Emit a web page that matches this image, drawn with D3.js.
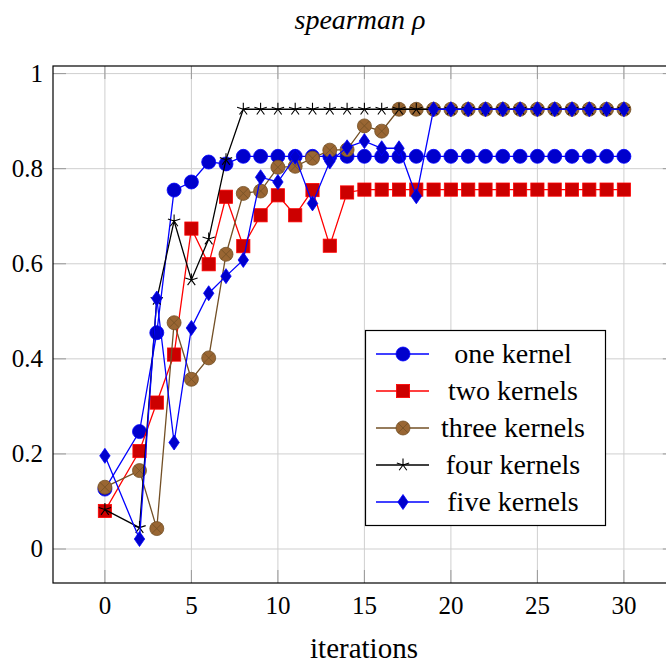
<!DOCTYPE html>
<html lang="en">
<head>
<meta charset="UTF-8">
<title>spearman rho</title>
<script src="https://d3js.org/d3.v7.js"></script>
<style>
	body { margin: 0; background: white; }
	text { font-family: "Liberation Serif", serif; fill: black; }
</style>
</head>
<body>
<svg id="chart" width="666" height="664"></svg>
<script>

// iteration numbers (there is no point at 1)
var iterations = [0, 2, 3, 4, 5, 6, 7, 8, 9, 10, 11, 12, 13, 14, 15, 16, 17, 18, 19, 20, 21, 22, 23, 24, 25, 26, 27, 28, 29, 30];

var oneKernel = [0.126, 0.247, 0.455, 0.755, 0.772, 0.814, 0.81,
	0.826, 0.826, 0.826, 0.826, 0.826, 0.826, 0.826, 0.826, 0.826, 0.826, 0.826, 0.826,
	0.826, 0.826, 0.826, 0.826, 0.826, 0.826, 0.826, 0.826, 0.826, 0.826, 0.826];

var twoKernels = [0.08, 0.206, 0.308, 0.409, 0.674, 0.599, 0.741,
	0.637, 0.702, 0.744, 0.702, 0.755, 0.638, 0.75,
	0.756, 0.756, 0.756, 0.756, 0.756, 0.756, 0.756, 0.756,
	0.756, 0.756, 0.756, 0.756, 0.756, 0.756, 0.756, 0.756];

var threeKernels = [0.13, 0.165, 0.043, 0.476, 0.357, 0.402, 0.62,
	0.748, 0.753, 0.803, 0.805, 0.822, 0.839, 0.84, 0.89, 0.879,
	0.925, 0.925, 0.925, 0.925, 0.925, 0.925, 0.925,
	0.925, 0.925, 0.925, 0.925, 0.925, 0.925, 0.925];

var fourKernels = [0.083, 0.045, 0.525, 0.69, 0.566, 0.652, 0.819,
	0.925, 0.925, 0.925, 0.925, 0.925, 0.925, 0.925, 0.925, 0.925, 0.925, 0.925, 0.925,
	0.925, 0.925, 0.925, 0.925, 0.925, 0.925, 0.925, 0.925, 0.925, 0.925, 0.925];

var fiveKernels = [0.196, 0.021, 0.527, 0.224, 0.465, 0.538, 0.574,
	0.608, 0.782, 0.772, 0.825, 0.727, 0.815, 0.845, 0.858, 0.843, 0.843, 0.742,
	0.925, 0.925, 0.925, 0.925, 0.925, 0.925,
	0.925, 0.925, 0.925, 0.925, 0.925, 0.925];

var seriesNames = ["one kernel", "two kernels", "three kernels", "four kernels", "five kernels"];
var xTicks = [0, 5, 10, 15, 20, 25, 30];
var yTicks = [0, 0.2, 0.4, 0.6, 0.8, 1];

// styles for each series, pgfplots-like
var styles = [
	{ values: oneKernel, line: "#0000ff", fill: "#0000cc", mark: "circle" },
	{ values: twoKernels, line: "#ff0000", fill: "#cc0000", mark: "square" },
	{ values: threeKernels, line: "#735026", fill: "#996633", mark: "otimes" },
	{ values: fourKernels, line: "#000000", fill: "none", mark: "star" },
	{ values: fiveKernels, line: "#0000ff", fill: "#0000cc", mark: "diamond" }
];

var svg = d3.select("#chart");

// note: "top" is taken by window.top, so use other names
var plotLeft = 53, plotTop = 66, plotBottom = 583;

var x = d3.scaleLinear().domain([-3, 33]).range([plotLeft, plotLeft + 36 * 17.3]);
var y = d3.scaleLinear().domain([-0.0715, 1.016]).range([plotBottom, plotTop]);
var plotRight = x(33);

svg.append("clipPath").attr("id", "plotclip")
	.append("rect").attr("x", plotLeft).attr("y", plotTop)
	.attr("width", plotRight - plotLeft).attr("height", plotBottom - plotTop);

// grid lines
var grid = svg.append("g").attr("clip-path", "url(#plotclip)");
grid.selectAll(".vg").data(xTicks).join("line")
	.attr("class", "vg")
	.attr("x1", d => x(d)).attr("x2", d => x(d))
	.attr("y1", plotTop).attr("y2", plotBottom)
	.attr("stroke", "#cfcfcf").attr("stroke-width", 1);
grid.selectAll(".hg").data(yTicks).join("line")
	.attr("class", "hg")
	.attr("x1", plotLeft).attr("x2", plotRight)
	.attr("y1", d => y(d)).attr("y2", d => y(d))
	.attr("stroke", "#cfcfcf").attr("stroke-width", 1);

// tick marks, pointing inwards on all four sides
var tickLen = 13;
var ticks = svg.append("g").attr("stroke", "#999").attr("stroke-width", 1);
xTicks.forEach(function(t) {
	ticks.append("line").attr("x1", x(t)).attr("x2", x(t)).attr("y1", plotBottom).attr("y2", plotBottom - tickLen);
	ticks.append("line").attr("x1", x(t)).attr("x2", x(t)).attr("y1", plotTop).attr("y2", plotTop + tickLen);
});
yTicks.forEach(function(t) {
	ticks.append("line").attr("x1", plotLeft).attr("x2", plotLeft + tickLen).attr("y1", y(t)).attr("y2", y(t));
	ticks.append("line").attr("x1", plotRight).attr("x2", plotRight - tickLen).attr("y1", y(t)).attr("y2", y(t));
});

// marker drawing
function drawMark(g, kind, cx, cy, st) {
	if (kind === "circle") {
		g.append("circle").attr("cx", cx).attr("cy", cy).attr("r", 7)
			.attr("fill", st.fill).attr("stroke", st.line).attr("stroke-width", 0.8);
	} else if (kind === "square") {
		g.append("rect").attr("x", cx - 6.6).attr("y", cy - 6.6).attr("width", 13.2).attr("height", 13.2)
			.attr("fill", st.fill).attr("stroke", st.line).attr("stroke-width", 0.8);
	} else if (kind === "otimes") {
		g.append("circle").attr("cx", cx).attr("cy", cy).attr("r", 7)
			.attr("fill", st.fill).attr("stroke", st.line).attr("stroke-width", 0.8);
		var k = 7 * Math.SQRT1_2;
		g.append("path")
			.attr("d", "M" + (cx - k) + "," + (cy - k) + "L" + (cx + k) + "," + (cy + k) +
				"M" + (cx - k) + "," + (cy + k) + "L" + (cx + k) + "," + (cy - k))
			.attr("stroke", st.line).attr("stroke-width", 0.8);
	} else if (kind === "star") {
		var p = "";
		for (var i = 0; i < 5; i++) {
			var a = Math.PI / 2 + i * 2 * Math.PI / 5;
			p += "M" + cx + "," + cy + "L" + (cx + 6.5 * Math.cos(a)) + "," + (cy - 6.5 * Math.sin(a));
		}
		g.append("path").attr("d", p).attr("stroke", st.line).attr("stroke-width", 1.1).attr("fill", "none");
	} else if (kind === "diamond") {
		g.append("path")
			.attr("d", "M" + cx + "," + (cy - 7.5) + "L" + (cx + 5.2) + "," + cy +
				"L" + cx + "," + (cy + 7.5) + "L" + (cx - 5.2) + "," + cy + "Z")
			.attr("fill", st.fill).attr("stroke", st.line).attr("stroke-width", 0.8);
	}
}

// the series, each one drawn over the ones before it
var lineGen = d3.line().x(d => x(d[0])).y(d => y(d[1]));
var plot = svg.append("g").attr("clip-path", "url(#plotclip)");

styles.forEach(function(st) {
	var pts = iterations.map((it, i) => [it, st.values[i]]);
	var g = plot.append("g");
	g.append("path").attr("d", lineGen(pts))
		.attr("fill", "none").attr("stroke", st.line).attr("stroke-width", 1.3);
	pts.forEach(function(p) {
		drawMark(g, st.mark, x(p[0]), y(p[1]), st);
	});
});

// frame
svg.append("rect").attr("x", plotLeft).attr("y", plotTop)
	.attr("width", plotRight - plotLeft).attr("height", plotBottom - plotTop)
	.attr("fill", "none").attr("stroke", "black").attr("stroke-width", 1.2);

// tick labels
svg.append("g").selectAll("text").data(xTicks).join("text")
	.attr("x", d => x(d)).attr("y", 614)
	.attr("text-anchor", "middle")
	.style("font-size", "25px")
	.text(d => d);

svg.append("g").selectAll("text").data(yTicks).join("text")
	.attr("x", 43).attr("y", d => y(d) + 8)
	.attr("text-anchor", "end")
	.style("font-size", "25px")
	.text(d => d);

// legend
var legend = svg.append("g");
legend.append("rect").attr("x", 365.5).attr("y", 330.5).attr("width", 240).attr("height", 195)
	.attr("fill", "white").attr("stroke", "black").attr("stroke-width", 1.2);

styles.forEach(function(st, i) {
	var ly = 354 + i * 37;
	var g = legend.append("g");
	g.append("line").attr("x1", 376).attr("x2", 429).attr("y1", ly).attr("y2", ly)
		.attr("stroke", st.line).attr("stroke-width", 1.3);
	drawMark(g, st.mark, 403, ly, st);
	g.append("text").attr("x", 513).attr("y", ly + 9)
		.attr("text-anchor", "middle")
		.style("font-size", "28px")
		.text(seriesNames[i]);
});

// title and axis label
svg.append("text").attr("x", 360).attr("y", 29)
	.attr("text-anchor", "middle")
	.style("font-size", "28px").style("font-style", "italic")
	.text("spearman ρ");

svg.append("text").attr("x", 364).attr("y", 658)
	.attr("text-anchor", "middle")
	.style("font-size", "29px")
	.text("iterations");

</script>
</body>
</html>
